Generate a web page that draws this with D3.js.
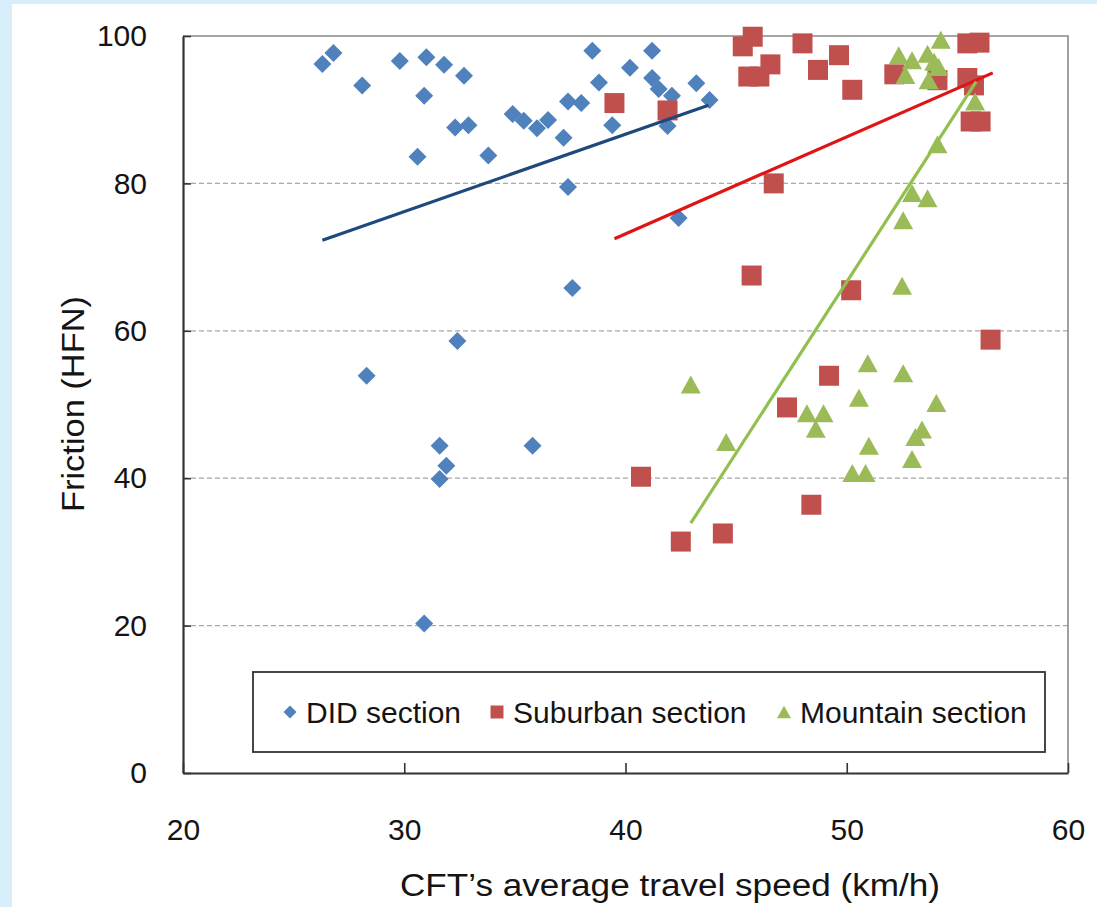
<!DOCTYPE html>
<html>
<head>
<meta charset="utf-8">
<script src="https://cdn.jsdelivr.net/npm/d3@7"></script>
<style>
  body { margin: 0; background: #d9eefb; }
  svg { display: block; }
  text { font-family: "Liberation Sans", Arial, sans-serif; fill: #141414; }
</style>
</head>
<body>
<svg id="chart" width="1097" height="907"></svg>
<script>
// DID section (speed km/h, friction HFN)
const didX = [26.3, 26.8, 28.1, 29.8, 31.0, 31.8, 32.7, 30.9, 32.3, 32.9, 30.6, 33.8, 34.9, 35.4,
  36.0, 36.5, 37.2, 37.4, 38.0, 38.5, 38.8, 39.4, 37.4, 40.2, 41.2, 41.2, 41.5, 42.1, 41.9, 43.2,
  43.8, 42.4, 37.6, 32.4, 28.3, 31.6, 31.9, 31.6, 35.8, 30.9];
const didY = [96.2, 97.7, 93.3, 96.6, 97.1, 96.1, 94.6, 91.9, 87.6, 87.9, 83.6, 83.8, 89.4, 88.5,
  87.5, 88.6, 86.2, 91.1, 90.9, 98.0, 93.7, 87.9, 79.5, 95.7, 98.0, 94.3, 92.8, 91.9, 87.8, 93.6,
  91.3, 75.3, 65.8, 58.6, 53.9, 44.4, 41.7, 39.9, 44.4, 20.3];

// Suburban section
const subX = [39.5, 41.9, 45.3, 45.75, 48.0, 46.55, 45.55, 46.05, 49.65, 48.7, 50.25, 52.15, 54.1,
  55.45, 56.0, 55.45, 55.75, 55.6, 56.05, 46.7, 45.7, 50.2, 56.5, 49.2, 47.3, 40.7, 42.5, 44.4, 48.4];
const subY = [90.9, 89.9, 98.6, 99.9, 99.0, 96.15, 94.5, 94.5, 97.4, 95.4, 92.7, 94.8, 94.0,
  99.0, 99.1, 94.3, 93.3, 88.4, 88.4, 80.0, 67.5, 65.5, 58.8, 53.9, 49.6, 40.2, 31.4, 32.5, 36.4];

// Mountain section
const mtnX = [52.35, 52.95, 53.65, 54.25, 53.95, 54.15, 52.65, 53.7, 55.8, 54.1, 52.95, 53.65, 52.55,
  52.5, 42.95, 44.55, 50.95, 52.55, 50.55, 54.05, 48.2, 48.95, 48.6, 51.0, 53.4, 53.1, 52.95, 50.25, 50.85];
const mtnY = [97.4, 96.7, 97.6, 99.5, 96.5, 95.8, 94.7, 94.0, 91.1, 85.3, 78.7, 78.0, 75.0,
  66.1, 52.7, 44.9, 55.6, 54.25, 50.9, 50.2, 48.8, 48.8, 46.7, 44.4, 46.6, 45.6, 42.6, 40.7, 40.7];

// linear trend lines, [x, y] at start and end
const trendStart = [[26.3, 72.3], [39.5, 72.5], [42.95, 33.9]];
const trendEnd = [[43.75, 90.6], [56.6, 95.0], [55.85, 93.8]];

const seriesNames = ["DID section", "Suburban section", "Mountain section"];
const xTicks = [20, 30, 40, 50, 60];
const yTicks = [0, 20, 40, 60, 80, 100];
const gridValues = [20, 40, 60, 80];

const fillColors = ["#4f81bd", "#c0504d", "#9bbb59"];
const lineColors = ["#1f497d", "#e01414", "#92c04f"];

const svg = d3.select("#chart");

// white panel over the light blue page
svg.append("rect")
    .attr("x", 12).attr("y", 4)
    .attr("width", 1085).attr("height", 903)
    .attr("fill", "#ffffff");

let x = d3.scaleLinear().domain([20, 60]).range([183, 1068]);
let y = d3.scaleLinear().domain([0, 100]).range([773, 36]);

// gridlines
svg.selectAll(".grid")
    .data(gridValues)
    .enter()
    .append("line")
    .attr("x1", x(20)).attr("x2", x(60))
    .attr("y1", d => y(d)).attr("y2", d => y(d))
    .attr("stroke", "#a8a8a8")
    .attr("stroke-width", 1.2)
    .attr("stroke-dasharray", "5,3");

// top and right frame
svg.append("path")
    .attr("d", `M${x(20)},${y(100)}H${x(60)}V${y(0)}`)
    .attr("fill", "none")
    .attr("stroke", "#8a8a8a")
    .attr("stroke-width", 1.6);

// axes
let xAxis = svg.append("g")
    .attr("transform", `translate(0,${y(0)})`)
    .call(d3.axisBottom(x).tickValues(xTicks).tickSize(-10).tickPadding(46).tickSizeOuter(0));
xAxis.selectAll("text").attr("font-size", 30).attr("fill", "#141414");

let yAxis = svg.append("g")
    .attr("transform", `translate(${x(20)},0)`)
    .call(d3.axisLeft(y).tickValues(yTicks).tickSize(-8).tickPadding(36).tickSizeOuter(0));
yAxis.selectAll("text").attr("font-size", 30).attr("fill", "#141414");

svg.selectAll(".domain").attr("stroke", "#333").attr("stroke-width", 2.2);
svg.selectAll(".tick line").attr("stroke", "#333").attr("stroke-width", 1.6);

// axis titles
svg.append("text")
    .attr("x", 670).attr("y", 896)
    .attr("text-anchor", "middle")
    .attr("font-size", 31)
    .attr("textLength", 540)
    .attr("lengthAdjust", "spacingAndGlyphs")
    .text("CFT\u2019s average travel speed (km/h)");

svg.append("text")
    .attr("transform", "translate(84,404) rotate(-90)")
    .attr("text-anchor", "middle")
    .attr("font-size", 31)
    .attr("textLength", 216)
    .attr("lengthAdjust", "spacingAndGlyphs")
    .text("Friction (HFN)");

// marker shapes
function markerPath(kind, s) {
    if (kind === 0) return `M0,${-s}L${s},0L0,${s}L${-s},0Z`;
    if (kind === 1) return `M${-s},${-s}H${s}V${s}H${-s}Z`;
    return `M0,${-s * 0.9}L${s},${s * 0.9}L${-s},${s * 0.9}Z`;
}
const markerSize = [9, 10, 10];

const series = [
    d3.zip(didX, didY),
    d3.zip(subX, subY),
    d3.zip(mtnX, mtnY)
];

series.forEach((pts, i) => {
    svg.append("g")
        .selectAll("path")
        .data(pts)
        .enter()
        .append("path")
        .attr("transform", d => `translate(${x(d[0])},${y(d[1])})`)
        .attr("d", markerPath(i, markerSize[i]))
        .attr("fill", fillColors[i]);
});

// trend lines on top of markers
svg.selectAll(".trend")
    .data(d3.range(3))
    .enter()
    .append("line")
    .attr("x1", i => x(trendStart[i][0]))
    .attr("y1", i => y(trendStart[i][1]))
    .attr("x2", i => x(trendEnd[i][0]))
    .attr("y2", i => y(trendEnd[i][1]))
    .attr("stroke", i => lineColors[i])
    .attr("stroke-width", 3.2);

// legend
let legend = svg.append("g");
legend.append("rect")
    .attr("x", 253).attr("y", 672)
    .attr("width", 792).attr("height", 80)
    .attr("fill", "#ffffff")
    .attr("stroke", "#333")
    .attr("stroke-width", 1.8);

const legendMarkX = [290, 497, 784];
const legendSize = [6.5, 6.5, 7];
seriesNames.forEach((name, i) => {
    legend.append("path")
        .attr("transform", `translate(${legendMarkX[i]},712)`)
        .attr("d", markerPath(i, legendSize[i]))
        .attr("fill", fillColors[i]);
    legend.append("text")
        .attr("x", legendMarkX[i] + 16)
        .attr("y", 712)
        .attr("dy", "0.35em")
        .attr("font-size", 30)
        .text(name);
});
</script>
</body>
</html>
